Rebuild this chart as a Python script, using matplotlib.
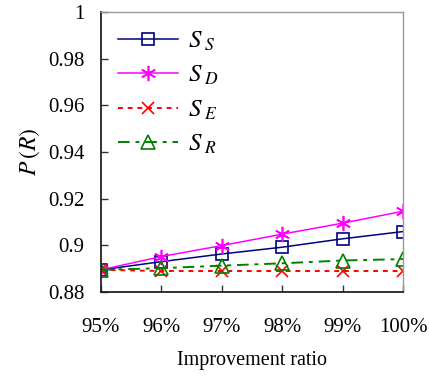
import matplotlib
matplotlib.use('Agg')
import matplotlib.pyplot as plt

plt.rcParams['font.family'] = ['Liberation Serif', 'DejaVu Serif']
plt.rcParams['mathtext.fontset'] = 'stix'

# improvement ratio (%) and P(R) for each strategy
ratios = [95, 96, 97, 98, 99, 100]
tick_labels = ['95%', '96%', '97%', '98%', '99%', '100%']
s_s = [0.8895, 0.8930, 0.8963, 0.8992, 0.9028, 0.9059]
s_d = [0.8895, 0.8952, 0.8999, 0.9048, 0.9095, 0.9146]
s_e = [0.8895, 0.8890, 0.8890, 0.8890, 0.8890, 0.8890]
s_r = [0.8895, 0.8902, 0.8913, 0.8923, 0.8935, 0.8941]

fig = plt.figure(figsize=(4.29, 3.82), dpi=100)
ax = fig.add_axes([0.2354, 0.2356, 0.7040, 0.7330])

ax.plot(ratios, s_s, color='#000080', lw=1.1, marker='s', ms=9,
        mfc='none', mec='#000080', mew=1.2, label='$S_{\\ S}$')
ax.plot(ratios, s_d, color='#ff00ff', lw=1.1, marker=(6, 2, 0), ms=11,
        mec='#ff00ff', mew=1.2, label='$S_{\\ D}$')
ax.plot(ratios, s_e, color='#ff0000', lw=1.4, ls=(0, (2.5, 2.5)), marker='x', ms=9,
        mec='#ff0000', mew=1.2, label='$S_{\\ E}$')
ax.plot(ratios, s_r, color='#008000', lw=1.4, ls=(0, (6, 3, 2, 3)), marker='^', ms=10,
        mfc='none', mec='#008000', mew=1.2, label='$S_{\\ R}$')

ax.set_xlim(95, 100)
ax.set_ylim(0.88, 1.0)
ax.set_xticks(ratios)
ax.set_xticklabels(tick_labels)
ax.set_yticks([0.88, 0.9, 0.92, 0.94, 0.96, 0.98, 1.0])
ax.set_yticklabels(['0.88', '0.9', '0.92', '0.94', '0.96', '0.98', '1'])

ax.tick_params(direction='in', length=5, width=1, top=False, right=False,
               labelsize=15, color='#333333')
ax.tick_params(axis='x', pad=19)
ax.tick_params(axis='y', pad=12)
for s in ['left', 'bottom']:
    ax.spines[s].set_color('#222222')
    ax.spines[s].set_linewidth(1.3)
for s in ['top', 'right']:
    ax.spines[s].set_color('#999999')
    ax.spines[s].set_linewidth(1.0)

ax.set_xlabel('Improvement ratio', fontsize=14.5, labelpad=10)
ax.set_ylabel('$P\\,(R)$', fontsize=17, labelpad=4)

ax.legend(loc='upper left', frameon=False, fontsize=18, handlelength=2.4,
          labelspacing=0.45, handletextpad=0.4, borderaxespad=0.3)

fig.savefig('out.png', dpi=100)
